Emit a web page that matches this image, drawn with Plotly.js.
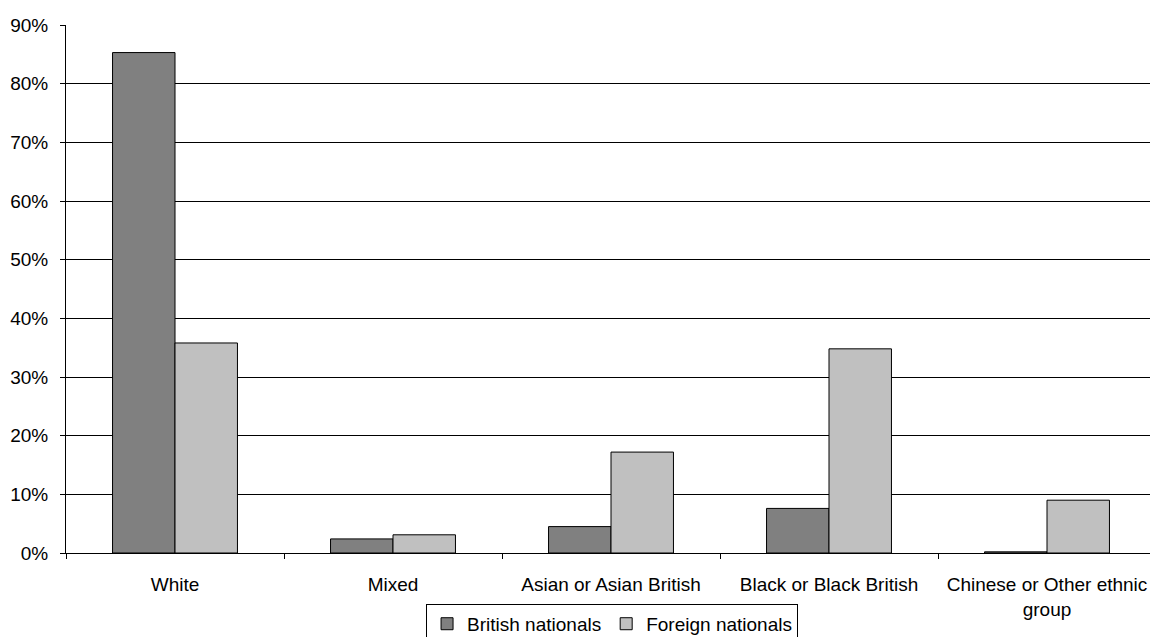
<!DOCTYPE html>
<html>
<head>
<meta charset="utf-8">
<script src="https://cdn.plot.ly/plotly-3.0.1.min.js"></script>
<style>
  html, body { margin: 0; padding: 0; overflow: hidden; background: #fff; }
  #chart { width: 1157px; height: 637px; }
</style>
</head>
<body>
<div id="chart"></div>
<script>
const categories = ["White", "Mixed", "Asian or Asian British", "Black or Black British", "Chinese or Other ethnic<br>group"];
const britishNationals = [0.853, 0.024, 0.045, 0.076, 0.002];
const foreignNationals = [0.358, 0.031, 0.172, 0.348, 0.090];
const seriesNames = ["British nationals", "Foreign nationals"];

const fontFamily = "Liberation Sans, Arial, sans-serif";

const traces = [
  {
    type: "bar", name: seriesNames[0], x: categories, y: britishNationals,
    marker: { color: "#808080", line: { color: "#000000", width: 1 } },
    hoverinfo: "skip"
  },
  {
    type: "bar", name: seriesNames[1], x: categories, y: foreignNationals,
    marker: { color: "#C0C0C0", line: { color: "#000000", width: 1 } },
    hoverinfo: "skip"
  }
];

const layout = {
  width: 1157, height: 637,
  margin: { l: 66, r: 1, t: 25, b: 84, autoexpand: false },
  paper_bgcolor: "#ffffff", plot_bgcolor: "#ffffff",
  font: { family: fontFamily, size: 19, color: "#000000" },
  barmode: "group", bargap: 0.427, bargroupgap: 0,
  showlegend: true,
  legend: {
    orientation: "h", xref: "container", yref: "container",
    x: 0.529, xanchor: "center", y: 0.052, yanchor: "top",
    bordercolor: "#000000", borderwidth: 1, bgcolor: "#ffffff",
    font: { family: fontFamily, size: 19, color: "#000000" },
    itemwidth: 30, tracegroupgap: 0
  },
  xaxis: {
    type: "category",
    showline: true, linecolor: "#000000", linewidth: 1,
    ticks: "outside", tickson: "boundaries", ticklen: 5, tickcolor: "#000000", tickwidth: 1,
    ticklabelstandoff: 14,
    showgrid: false, zeroline: false, fixedrange: true,
    tickfont: { family: fontFamily, size: 19, color: "#000000" }
  },
  yaxis: {
    range: [0, 0.9], dtick: 0.1, tick0: 0, tickformat: ".0%",
    showline: true, linecolor: "#000000", linewidth: 1,
    ticks: "outside", ticklen: 5, tickcolor: "#000000", tickwidth: 1,
    ticklabelstandoff: 8,
    showgrid: true, gridcolor: "#000000", gridwidth: 1,
    zeroline: false, fixedrange: true,
    tickfont: { family: fontFamily, size: 19, color: "#000000" }
  }
};

Plotly.newPlot("chart", traces, layout, { displayModeBar: false, staticPlot: true });
</script>
</body>
</html>
